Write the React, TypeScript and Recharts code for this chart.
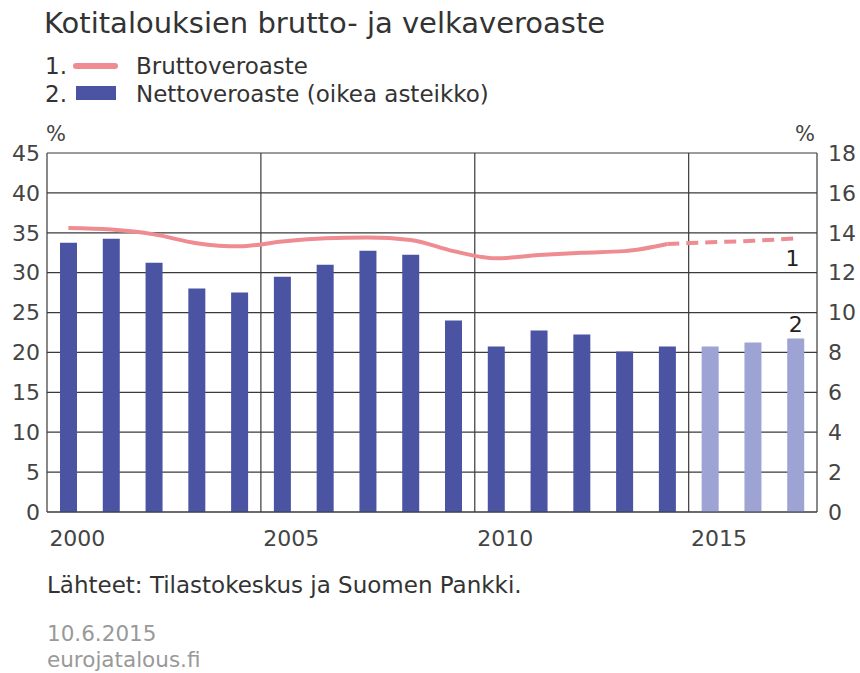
import { ComposedChart, Bar, Line, XAxis, YAxis, CartesianGrid, ReferenceLine, Cell, LabelList } from 'recharts';

const years = ['2000', '2001', '2002', '2003', '2004', '2005', '2006', '2007', '2008', '2009', '2010', '2011', '2012', '2013', '2014', '2015', '2016', '2017'];
// 1. Bruttoveroaste, left axis (%)
const grossRate = [35.6, 35.4, 34.8, 33.7, 33.3, 33.9, 34.3, 34.4, 34.1, 32.7, 31.8, 32.2, 32.5, 32.7, 33.6, 33.8, 34.0, 34.3];
// 2. Nettoveroaste, right axis (%)
const netRate = [13.5, 13.7, 12.5, 11.2, 11.0, 11.8, 12.4, 13.1, 12.9, 9.6, 8.3, 9.1, 8.9, 8.05, 8.3, 8.3, 8.5, 8.7];
const forecastFrom = '2015';
const leftTicks = [0, 5, 10, 15, 20, 25, 30, 35, 40, 45];
const rightTicks = [0, 2, 4, 6, 8, 10, 12, 14, 16, 18];
const yearLabels = ['2000', '2005', '2010', '2015'];
const dividerYears = ['2005', '2010', '2015'];

const lastIdx = years.length - 1;
const splitIdx = years.indexOf(forecastFrom) - 1;

const data = years.map((year, i) => ({
  year,
  gross: i <= splitIdx ? grossRate[i] : null,
  grossF: i >= splitIdx ? grossRate[i] : null,
  net: netRate[i],
}));

const FONT = '"DejaVu Sans", sans-serif';
const TEXT = '#444';
const GRID = '#3a3a3a';
const PINK = '#ee8c92';
const BLUE = '#4a54a3';
const LIGHT = '#9da3d3';

const YearTick = (props: any) => {
  const { x, y, payload } = props;
  if (!yearLabels.includes(payload.value)) return <g />;
  return (
    <text x={x - 19} y={y + 26} textAnchor="start" fill={TEXT} fontSize={22} fontFamily={FONT}>
      {payload.value}
    </text>
  );
};

const lineEndLabel = (props: any) => {
  const { x, y, index } = props;
  if (index !== lastIdx || x == null) return <g />;
  return (
    <text x={x - 3} y={y + 28} textAnchor="middle" fill="#222" fontSize={22} fontFamily={FONT}>1</text>
  );
};

const barEndLabel = (props: any) => {
  const { x, y, width, index } = props;
  if (index !== lastIdx) return <g />;
  return (
    <text x={x + width / 2} y={y - 6} textAnchor="middle" fill="#222" fontSize={22} fontFamily={FONT}>2</text>
  );
};

const abs = (left: number, top: number, extra: any = {}) => ({
  position: 'absolute' as const,
  left,
  top,
  fontFamily: FONT,
  color: '#333',
  whiteSpace: 'nowrap' as const,
  lineHeight: 1,
  ...extra,
});

export default function App() {
  return (
    <div style={{ position: 'absolute', left: 0, top: 0, width: 860, height: 673, background: '#fff', overflow: 'hidden' }}>
      <div style={abs(44, 8.5, { fontSize: 29 })}>Kotitalouksien brutto- ja velkaveroaste</div>

      <div style={abs(45, 55, { fontSize: 23 })}>1.</div>
      <div style={{ position: 'absolute', left: 73, top: 63, width: 45, height: 6, borderRadius: 3, background: PINK }} />
      <div style={abs(136, 55, { fontSize: 23 })}>Bruttoveroaste</div>
      <div style={abs(45, 83, { fontSize: 23 })}>2.</div>
      <div style={{ position: 'absolute', left: 76, top: 86, width: 40, height: 14, background: BLUE }} />
      <div style={abs(136, 83, { fontSize: 23 })}>Nettoveroaste (oikea asteikko)</div>

      <div style={abs(46, 124, { fontSize: 21, color: TEXT })}>%</div>
      <div style={abs(795, 124, { fontSize: 21, color: TEXT })}>%</div>

      <div style={{ position: 'absolute', left: 0, top: 0 }}>
        <ComposedChart width={860} height={673} data={data} margin={{ top: 153, right: 3, bottom: 121, left: 7 }}>
          <CartesianGrid vertical={false} stroke={GRID} strokeWidth={1.2} yAxisId="left" />
          <XAxis dataKey="year" tick={<YearTick />} tickLine={false} axisLine={{ stroke: GRID, strokeWidth: 1.2 }} interval={0} height={40} />
          <YAxis yAxisId="left" domain={[0, 45]} ticks={leftTicks} width={40} tickLine={false} tickSize={0} tickMargin={7}
            axisLine={{ stroke: GRID, strokeWidth: 1.2 }} tick={{ fill: TEXT, fontSize: 22, fontFamily: FONT }} interval={0} />
          <YAxis yAxisId="right" orientation="right" domain={[0, 18]} ticks={rightTicks} width={40} tickLine={false} tickSize={0} tickMargin={11}
            axisLine={{ stroke: GRID, strokeWidth: 1.2 }} tick={{ fill: TEXT, fontSize: 22, fontFamily: FONT, textAnchor: 'start' }} interval={0} />
          {dividerYears.map((d) => (
            <ReferenceLine key={d} yAxisId="left" x={d} position="start" stroke={GRID} strokeWidth={1.2} />
          ))}
          <Bar dataKey="net" yAxisId="right" barSize={17} isAnimationActive={false}>
            {data.map((d) => (
              <Cell key={d.year} fill={d.year >= forecastFrom ? LIGHT : BLUE} />
            ))}
            <LabelList dataKey="net" content={barEndLabel} />
          </Bar>
          <Line dataKey="gross" yAxisId="left" type="monotone" stroke={PINK} strokeWidth={4} dot={false} isAnimationActive={false} />
          <Line dataKey="grossF" yAxisId="left" type="monotone" stroke={PINK} strokeWidth={4} strokeDasharray="12 7" dot={false} isAnimationActive={false}>
            <LabelList dataKey="grossF" content={lineEndLabel} />
          </Line>
        </ComposedChart>
      </div>

      <div style={abs(47, 573.5, { fontSize: 23 })}>Lähteet: Tilastokeskus ja Suomen Pankki.</div>
      <div style={abs(47, 623, { fontSize: 21.5, color: '#999' })}>10.6.2015</div>
      <div style={abs(47, 649, { fontSize: 21.5, color: '#999' })}>eurojatalous.fi</div>
    </div>
  );
}
